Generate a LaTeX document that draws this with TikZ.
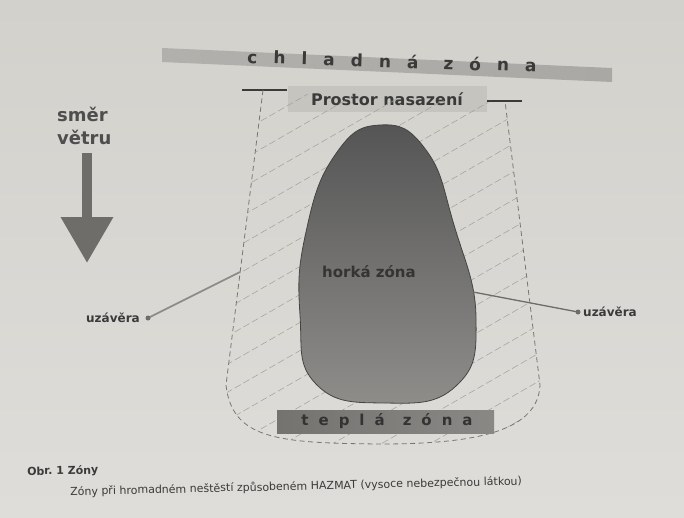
\documentclass[tikz,border=0pt]{standalone}
\usepackage{fontspec}
\setmainfont{DejaVu Sans}
\usetikzlibrary{positioning,arrows.meta,calc}
\definecolor{paper}{HTML}{D3D1CC}
\definecolor{paperlow}{HTML}{DFDDD9}
\definecolor{ink}{HTML}{3A3A3A}
\definecolor{band}{HTML}{A9A8A4}
\definecolor{boxc}{HTML}{C6C4BF}
\definecolor{hot}{HTML}{555555}
\definecolor{hotlow}{HTML}{8E8D8A}
\definecolor{warm}{HTML}{747370}
\definecolor{edgec}{HTML}{77766F}
\definecolor{hatchc}{HTML}{A09F9A}
\definecolor{wind}{HTML}{6E6D6A}
\tikzset{
  lbl/.style={text=ink,inner sep=0pt},
  zoneedge/.style={draw=edgec,line width=0.8pt,dash pattern=on 5pt off 3.5pt},
  hatchline/.style={draw=hatchc,line width=0.5pt,dash pattern=on 7pt off 3pt},
  gate/.style={draw=wind,line width=1.6pt},
}

\begin{document}
\begin{tikzpicture}[x=1pt,y=-1pt]

  % page
  \useasboundingbox (0,0) rectangle (684,517);
  \shade[top color=paper,bottom color=paperlow] (0,0) rectangle (684,517);

  % cold zone band
  \shade[left color=band!80!paper,right color=band]
    (162,48) -- (612,68) -- (612,82) -- (162,62) -- cycle;
  \node[lbl,font=\bfseries\fontsize{17}{20}\selectfont,rotate=-1.8] (cold) at (392,61)
    {\spaceskip=16pt c h l a d n á\hskip 25pt z ó n a};

  % deployment area
  \node[lbl,fill=boxc,font=\bfseries\fontsize{16}{19}\selectfont,
    minimum width=199pt,minimum height=26pt] (area) at (387,99) {Prostor nasazení};
  \coordinate (tickL) at (263,90);
  \coordinate (tickR) at (505,101);
  \draw[ink,line width=1.3pt] (242,90) -- (287,90);
  \draw[ink,line width=1.3pt] (487,101) -- (522,101);

  % warm zone outline and hatching
  \begin{scope}
    \clip (263,92) -- (226,385) .. controls (232,440) and (280,443) .. (380,444)
      .. controls (480,444) and (538,430) .. (540,385) -- (505,103) -- cycle;
    \foreach \k in {0,...,18}
      \draw[hatchline] (200,{100+\k*28}) -- ++(400,-230);
  \end{scope}
  \draw[zoneedge] (tickL) -- (226,385) .. controls (232,440) and (280,443) .. (380,444)
    .. controls (480,444) and (538,430) .. (540,385) -- (tickR);

  % hot zone
  \shade[top color=hot,bottom color=hotlow,draw=hot!80!black,line width=0.8pt]
    plot[smooth cycle,tension=0.8] coordinates {(380,125) (426,150) (454,225)
      (476,318) (456,386) (385,403) (316,384) (300,315) (306,232) (335,155)};
  \node[lbl,text=ink!90!black,font=\bfseries\fontsize{15}{18}\selectfont] (hotz) at (369,272) {horká zóna};

  % warm zone label
  \shade[left color=warm,right color=warm!85!white] (277,410) rectangle (494,433);
  \node[lbl,text=black!80,font=\bfseries\fontsize{15}{18}\selectfont] (warmz) at (387,421)
    {\spaceskip=10pt t e p l á\hskip 18pt z ó n a};

  % wind direction
  \node[lbl,font=\bfseries\fontsize{18}{23}\selectfont,text=ink!90!white,align=left,
    anchor=north west] (windtxt) at (57,107) {směr\\větru};
  \draw[wind,line width=10pt,-{Triangle[length=46pt,width=50pt]}] (87,153) -- (87,263);

  % closures
  \coordinate (gateL) at (240,272);
  \coordinate (gateR) at (473,292);
  \node[lbl,font=\bfseries\fontsize{12}{14}\selectfont,anchor=east] (closeL) at (140,318) {uzávěra};
  \node[lbl,font=\bfseries\fontsize{12}{14}\selectfont,anchor=west] (closeR) at (583,312) {uzávěra};
  \coordinate[right=8pt of closeL.east] (dotL);
  \coordinate[left=5pt of closeR.west] (dotR);
  \draw[gate,draw=wind!80!white] (dotL) -- (gateL);
  \draw[gate,line width=1.3pt] (gateR) -- (dotR);
  \fill[wind] (dotL) circle (2.5pt) (dotR) circle (2.5pt);

  % caption
  \node[lbl,font=\bfseries\fontsize{11}{13}\selectfont,anchor=west,rotate=1.2] (obr) at (27,472) {Obr.\ 1 Zóny};
  \node[lbl,font=\fontsize{11}{13}\selectfont,anchor=west,rotate=1.35] (capt) at (70,492)
    {Zóny při hromadném neštěstí způsobeném HAZMAT (vysoce nebezpečnou látkou)};

\end{tikzpicture}
\end{document}
